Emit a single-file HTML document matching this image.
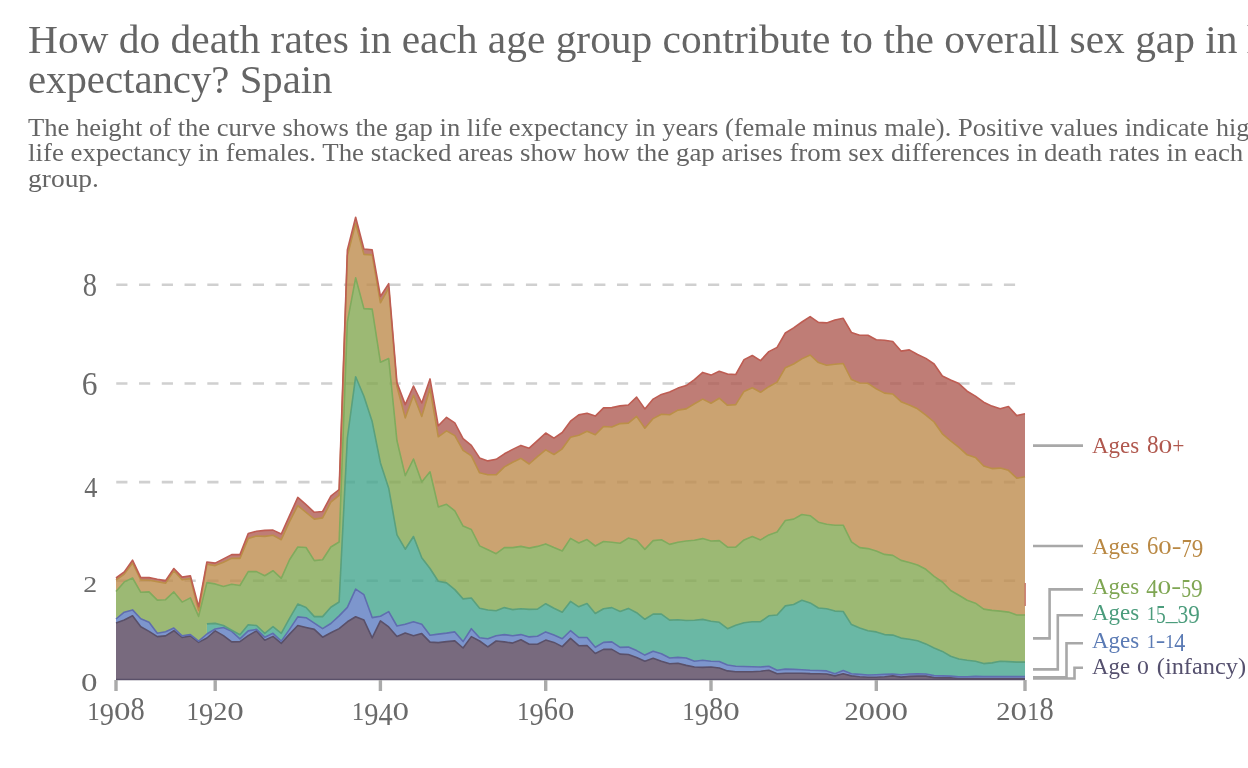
<!DOCTYPE html>
<html><head><meta charset="utf-8"><style>
html,body{margin:0;padding:0;background:#fff;width:1248px;height:768px;overflow:hidden}
svg{display:block;will-change:transform}
text{font-family:"Liberation Serif",serif}
.ttl{font-size:40px;fill:#656565}
.sub{font-size:26px;fill:#656565}
.ax{font-size:29px;fill:#6a6a6a}
.lg{font-size:24px}
</style></head><body>
<svg width="1248" height="768" viewBox="0 0 1248 768">
<text class="ttl" x="28" y="52.6" textLength="1209.5" lengthAdjust="spacingAndGlyphs">How do death rates in each age group contribute to the overall sex gap in</text>
<text class="ttl" x="1246.8" y="52.6">life</text>
<text class="ttl" x="28" y="93" textLength="304.5" lengthAdjust="spacingAndGlyphs">expectancy? Spain</text>
<text class="sub" x="28" y="136" textLength="1180.7" lengthAdjust="spacingAndGlyphs">The height of the curve shows the gap in life expectancy in years (female minus male). Positive values indicate</text>
<text class="sub" x="1216" y="136">higher</text>
<text class="sub" x="28" y="161.4" textLength="1215.3" lengthAdjust="spacingAndGlyphs">life expectancy in females. The stacked areas show how the gap arises from sex differences in death rates in each</text>
<text class="sub" x="28" y="187" textLength="71" lengthAdjust="spacingAndGlyphs">group.</text>
<line x1="116.25" y1="580.8" x2="1025" y2="580.8" stroke="#d0d0d0" stroke-width="2.6" stroke-dasharray="11.2 11.56"/>
<line x1="116.25" y1="482.1" x2="1025" y2="482.1" stroke="#d0d0d0" stroke-width="2.6" stroke-dasharray="11.2 11.56"/>
<line x1="116.25" y1="383.5" x2="1025" y2="383.5" stroke="#d0d0d0" stroke-width="2.6" stroke-dasharray="11.2 11.56"/>
<line x1="116.25" y1="284.8" x2="1025" y2="284.8" stroke="#d0d0d0" stroke-width="2.6" stroke-dasharray="11.2 11.56"/>

<path d="M116.00,622.90 L124.26,620.00 L132.53,615.80 L140.79,626.80 L149.05,631.40 L157.32,636.60 L165.58,635.90 L173.85,630.70 L182.11,637.50 L190.37,635.90 L198.64,642.40 L206.90,638.00 L215.16,630.90 L223.43,635.60 L231.69,641.90 L239.95,641.60 L248.22,635.60 L256.48,630.90 L264.75,640.30 L273.01,636.40 L281.27,643.40 L289.54,634.10 L297.80,625.50 L306.06,627.50 L314.33,629.40 L322.59,637.20 L330.85,632.80 L339.12,628.60 L347.38,621.80 L355.65,616.70 L363.91,620.10 L372.17,637.90 L380.44,620.90 L388.70,626.90 L396.96,636.50 L405.23,633.10 L413.49,635.80 L421.75,633.60 L430.02,642.10 L438.28,642.60 L446.55,641.60 L454.81,640.90 L463.07,648.00 L471.34,636.60 L479.60,641.00 L487.86,646.90 L496.13,641.00 L504.39,641.90 L512.65,643.10 L520.92,639.80 L529.18,644.30 L537.45,644.30 L545.71,640.10 L553.97,642.40 L562.24,646.60 L570.50,638.40 L578.76,645.70 L587.03,645.50 L595.29,653.50 L603.55,649.40 L611.82,649.40 L620.08,654.10 L628.35,654.50 L636.61,657.40 L644.87,661.20 L653.14,658.30 L661.40,661.20 L669.66,663.80 L677.93,663.30 L686.19,665.40 L694.45,667.00 L702.72,667.40 L710.98,667.00 L719.25,668.00 L727.51,670.90 L735.77,671.70 L744.04,671.70 L752.30,671.70 L760.56,671.20 L768.83,670.30 L777.09,673.80 L785.35,673.20 L793.62,673.20 L801.88,673.20 L810.15,673.60 L818.41,673.80 L826.67,674.00 L834.94,675.90 L843.20,673.80 L851.46,675.90 L859.73,676.70 L867.99,677.30 L876.25,677.30 L884.52,676.70 L892.78,675.90 L901.05,677.10 L909.31,676.40 L917.57,676.10 L925.84,676.10 L934.10,677.60 L942.36,677.90 L950.63,677.90 L958.89,678.50 L967.15,678.50 L975.42,678.50 L983.68,678.50 L991.95,678.50 L1000.21,678.50 L1008.47,678.50 L1016.74,678.50 L1025.00,678.50 L1025.00,679.50 L1016.74,679.50 L1008.47,679.50 L1000.21,679.50 L991.95,679.50 L983.68,679.50 L975.42,679.50 L967.15,679.50 L958.89,679.50 L950.63,679.50 L942.36,679.50 L934.10,679.50 L925.84,679.50 L917.57,679.50 L909.31,679.50 L901.05,679.50 L892.78,679.50 L884.52,679.50 L876.25,679.50 L867.99,679.50 L859.73,679.50 L851.46,679.50 L843.20,679.50 L834.94,679.50 L826.67,679.50 L818.41,679.50 L810.15,679.50 L801.88,679.50 L793.62,679.50 L785.35,679.50 L777.09,679.50 L768.83,679.50 L760.56,679.50 L752.30,679.50 L744.04,679.50 L735.77,679.50 L727.51,679.50 L719.25,679.50 L710.98,679.50 L702.72,679.50 L694.45,679.50 L686.19,679.50 L677.93,679.50 L669.66,679.50 L661.40,679.50 L653.14,679.50 L644.87,679.50 L636.61,679.50 L628.35,679.50 L620.08,679.50 L611.82,679.50 L603.55,679.50 L595.29,679.50 L587.03,679.50 L578.76,679.50 L570.50,679.50 L562.24,679.50 L553.97,679.50 L545.71,679.50 L537.45,679.50 L529.18,679.50 L520.92,679.50 L512.65,679.50 L504.39,679.50 L496.13,679.50 L487.86,679.50 L479.60,679.50 L471.34,679.50 L463.07,679.50 L454.81,679.50 L446.55,679.50 L438.28,679.50 L430.02,679.50 L421.75,679.50 L413.49,679.50 L405.23,679.50 L396.96,679.50 L388.70,679.50 L380.44,679.50 L372.17,679.50 L363.91,679.50 L355.65,679.50 L347.38,679.50 L339.12,679.50 L330.85,679.50 L322.59,679.50 L314.33,679.50 L306.06,679.50 L297.80,679.50 L289.54,679.50 L281.27,679.50 L273.01,679.50 L264.75,679.50 L256.48,679.50 L248.22,679.50 L239.95,679.50 L231.69,679.50 L223.43,679.50 L215.16,679.50 L206.90,679.50 L198.64,679.50 L190.37,679.50 L182.11,679.50 L173.85,679.50 L165.58,679.50 L157.32,679.50 L149.05,679.50 L140.79,679.50 L132.53,679.50 L124.26,679.50 L116.00,679.50 Z" fill="#56455e" fill-opacity="0.8"/>
<path d="M116.00,619.00 L124.26,612.20 L132.53,609.90 L140.79,618.75 L149.05,622.30 L157.32,633.30 L165.58,631.80 L173.85,628.10 L182.11,635.90 L190.37,634.60 L198.64,641.10 L206.90,634.00 L215.16,629.00 L223.43,627.50 L231.69,631.30 L239.95,638.80 L248.22,630.90 L256.48,629.40 L264.75,637.20 L273.01,633.30 L281.27,641.10 L289.54,629.40 L297.80,616.90 L306.06,617.70 L314.33,623.10 L322.59,628.60 L330.85,623.50 L339.12,615.90 L347.38,607.40 L355.65,589.10 L363.91,594.70 L372.17,617.60 L380.44,616.20 L388.70,611.60 L396.96,626.00 L405.23,624.30 L413.49,621.80 L421.75,624.30 L430.02,635.30 L438.28,634.10 L446.55,633.10 L454.81,631.90 L463.07,641.60 L471.34,628.70 L479.60,637.70 L487.86,638.70 L496.13,635.70 L504.39,634.60 L512.65,635.70 L520.92,634.60 L529.18,636.90 L537.45,636.30 L545.71,631.90 L553.97,635.10 L562.24,638.70 L570.50,630.70 L578.76,637.50 L587.03,637.50 L595.29,647.30 L603.55,642.40 L611.82,641.90 L620.08,647.40 L628.35,647.10 L636.61,650.60 L644.87,655.10 L653.14,651.30 L661.40,653.70 L669.66,658.00 L677.93,657.40 L686.19,658.00 L694.45,661.20 L702.72,660.30 L710.98,661.20 L719.25,661.50 L727.51,665.00 L735.77,666.20 L744.04,666.50 L752.30,666.80 L760.56,667.00 L768.83,666.20 L777.09,670.30 L785.35,669.10 L793.62,669.40 L801.88,669.70 L810.15,670.30 L818.41,670.50 L826.67,670.90 L834.94,673.80 L843.20,670.50 L851.46,673.80 L859.73,674.40 L867.99,675.00 L876.25,674.70 L884.52,674.40 L892.78,674.00 L901.05,674.70 L909.31,674.00 L917.57,673.80 L925.84,674.00 L934.10,675.60 L942.36,675.90 L950.63,676.10 L958.89,676.70 L967.15,676.70 L975.42,676.40 L983.68,676.50 L991.95,676.50 L1000.21,676.50 L1008.47,676.50 L1016.74,676.50 L1025.00,676.50 L1025.00,678.50 L1016.74,678.50 L1008.47,678.50 L1000.21,678.50 L991.95,678.50 L983.68,678.50 L975.42,678.50 L967.15,678.50 L958.89,678.50 L950.63,677.90 L942.36,677.90 L934.10,677.60 L925.84,676.10 L917.57,676.10 L909.31,676.40 L901.05,677.10 L892.78,675.90 L884.52,676.70 L876.25,677.30 L867.99,677.30 L859.73,676.70 L851.46,675.90 L843.20,673.80 L834.94,675.90 L826.67,674.00 L818.41,673.80 L810.15,673.60 L801.88,673.20 L793.62,673.20 L785.35,673.20 L777.09,673.80 L768.83,670.30 L760.56,671.20 L752.30,671.70 L744.04,671.70 L735.77,671.70 L727.51,670.90 L719.25,668.00 L710.98,667.00 L702.72,667.40 L694.45,667.00 L686.19,665.40 L677.93,663.30 L669.66,663.80 L661.40,661.20 L653.14,658.30 L644.87,661.20 L636.61,657.40 L628.35,654.50 L620.08,654.10 L611.82,649.40 L603.55,649.40 L595.29,653.50 L587.03,645.50 L578.76,645.70 L570.50,638.40 L562.24,646.60 L553.97,642.40 L545.71,640.10 L537.45,644.30 L529.18,644.30 L520.92,639.80 L512.65,643.10 L504.39,641.90 L496.13,641.00 L487.86,646.90 L479.60,641.00 L471.34,636.60 L463.07,648.00 L454.81,640.90 L446.55,641.60 L438.28,642.60 L430.02,642.10 L421.75,633.60 L413.49,635.80 L405.23,633.10 L396.96,636.50 L388.70,626.90 L380.44,620.90 L372.17,637.90 L363.91,620.10 L355.65,616.70 L347.38,621.80 L339.12,628.60 L330.85,632.80 L322.59,637.20 L314.33,629.40 L306.06,627.50 L297.80,625.50 L289.54,634.10 L281.27,643.40 L273.01,636.40 L264.75,640.30 L256.48,630.90 L248.22,635.60 L239.95,641.60 L231.69,641.90 L223.43,635.60 L215.16,630.90 L206.90,638.00 L198.64,642.40 L190.37,635.90 L182.11,637.50 L173.85,630.70 L165.58,635.90 L157.32,636.60 L149.05,631.40 L140.79,626.80 L132.53,615.80 L124.26,620.00 L116.00,622.90 Z" fill="#5d7cc1" fill-opacity="0.8"/>
<path d="M206.90,623.90 L215.16,623.40 L223.43,625.50 L231.69,630.20 L239.95,634.80 L248.22,624.70 L256.48,625.50 L264.75,633.30 L273.01,626.60 L281.27,633.30 L289.54,618.40 L297.80,604.10 L306.06,607.50 L314.33,616.60 L322.59,616.60 L330.85,607.20 L339.12,602.00 L347.38,438.00 L355.65,376.70 L363.91,396.20 L372.17,421.60 L380.44,462.90 L388.70,488.20 L396.96,534.80 L405.23,549.20 L413.49,536.50 L421.75,557.70 L430.02,568.50 L438.28,581.20 L446.55,582.90 L454.81,589.60 L463.07,598.90 L471.34,598.00 L479.60,608.20 L487.86,610.00 L496.13,610.80 L504.39,607.60 L512.65,609.60 L520.92,608.80 L529.18,609.40 L537.45,609.10 L545.71,603.70 L553.97,608.20 L562.24,612.30 L570.50,601.40 L578.76,606.80 L587.03,603.50 L595.29,613.50 L603.55,608.80 L611.82,607.60 L620.08,611.50 L628.35,608.40 L636.61,612.70 L644.87,619.30 L653.14,614.10 L661.40,614.10 L669.66,620.10 L677.93,619.70 L686.19,620.50 L694.45,620.20 L702.72,619.40 L710.98,621.30 L719.25,622.30 L727.51,628.70 L735.77,625.20 L744.04,622.80 L752.30,621.70 L760.56,621.70 L768.83,615.80 L777.09,615.00 L785.35,605.90 L793.62,604.50 L801.88,600.20 L810.15,602.90 L818.41,608.00 L826.67,608.80 L834.94,611.10 L843.20,611.50 L851.46,624.60 L859.73,628.10 L867.99,630.70 L876.25,631.90 L884.52,634.60 L892.78,635.10 L901.05,638.10 L909.31,639.20 L917.57,640.80 L925.84,643.90 L934.10,648.00 L942.36,651.40 L950.63,656.20 L958.89,659.00 L967.15,660.20 L975.42,661.20 L983.68,663.60 L991.95,662.90 L1000.21,661.20 L1008.47,661.60 L1016.74,662.10 L1025.00,662.10 L1025.00,676.50 L1016.74,676.50 L1008.47,676.50 L1000.21,676.50 L991.95,676.50 L983.68,676.50 L975.42,676.40 L967.15,676.70 L958.89,676.70 L950.63,676.10 L942.36,675.90 L934.10,675.60 L925.84,674.00 L917.57,673.80 L909.31,674.00 L901.05,674.70 L892.78,674.00 L884.52,674.40 L876.25,674.70 L867.99,675.00 L859.73,674.40 L851.46,673.80 L843.20,670.50 L834.94,673.80 L826.67,670.90 L818.41,670.50 L810.15,670.30 L801.88,669.70 L793.62,669.40 L785.35,669.10 L777.09,670.30 L768.83,666.20 L760.56,667.00 L752.30,666.80 L744.04,666.50 L735.77,666.20 L727.51,665.00 L719.25,661.50 L710.98,661.20 L702.72,660.30 L694.45,661.20 L686.19,658.00 L677.93,657.40 L669.66,658.00 L661.40,653.70 L653.14,651.30 L644.87,655.10 L636.61,650.60 L628.35,647.10 L620.08,647.40 L611.82,641.90 L603.55,642.40 L595.29,647.30 L587.03,637.50 L578.76,637.50 L570.50,630.70 L562.24,638.70 L553.97,635.10 L545.71,631.90 L537.45,636.30 L529.18,636.90 L520.92,634.60 L512.65,635.70 L504.39,634.60 L496.13,635.70 L487.86,638.70 L479.60,637.70 L471.34,628.70 L463.07,641.60 L454.81,631.90 L446.55,633.10 L438.28,634.10 L430.02,635.30 L421.75,624.30 L413.49,621.80 L405.23,624.30 L396.96,626.00 L388.70,611.60 L380.44,616.20 L372.17,617.60 L363.91,594.70 L355.65,589.10 L347.38,607.40 L339.12,615.90 L330.85,623.50 L322.59,628.60 L314.33,623.10 L306.06,617.70 L297.80,616.90 L289.54,629.40 L281.27,641.10 L273.01,633.30 L264.75,637.20 L256.48,629.40 L248.22,630.90 L239.95,638.80 L231.69,631.30 L223.43,627.50 L215.16,629.00 L206.90,634.00 Z" fill="#45a68e" fill-opacity="0.8"/>
<path d="M116.00,591.40 L124.26,581.90 L132.53,578.00 L140.79,592.30 L149.05,591.90 L157.32,600.10 L165.58,599.70 L173.85,591.90 L182.11,602.10 L190.37,597.90 L198.64,616.40 L206.90,582.60 L215.16,583.90 L223.43,586.50 L231.69,584.30 L239.95,585.50 L248.22,571.60 L256.48,571.60 L264.75,575.80 L273.01,570.70 L281.27,578.30 L289.54,559.70 L297.80,547.00 L306.06,547.50 L314.33,560.60 L322.59,559.70 L330.85,547.00 L339.12,542.00 L347.38,321.80 L355.65,277.80 L363.91,308.60 L372.17,309.10 L380.44,362.30 L388.70,358.60 L396.96,440.80 L405.23,475.60 L413.49,459.00 L421.75,482.00 L430.02,471.80 L438.28,506.90 L446.55,504.30 L454.81,510.80 L463.07,526.10 L471.34,529.50 L479.60,545.90 L487.86,549.80 L496.13,553.70 L504.39,547.60 L512.65,547.60 L520.92,546.40 L529.18,548.10 L537.45,546.40 L545.71,543.90 L553.97,547.60 L562.24,551.00 L570.50,538.40 L578.76,543.00 L587.03,539.60 L595.29,546.00 L603.55,541.50 L611.82,542.30 L620.08,543.20 L628.35,538.10 L636.61,540.30 L644.87,549.40 L653.14,540.60 L661.40,539.80 L669.66,544.40 L677.93,542.30 L686.19,541.00 L694.45,540.30 L702.72,538.60 L710.98,541.00 L719.25,540.60 L727.51,547.20 L735.77,547.20 L744.04,539.90 L752.30,536.60 L760.56,539.90 L768.83,534.90 L777.09,532.00 L785.35,520.50 L793.62,519.10 L801.88,514.50 L810.15,515.70 L818.41,522.20 L826.67,524.20 L834.94,525.20 L843.20,525.20 L851.46,541.80 L859.73,547.60 L867.99,548.60 L876.25,551.00 L884.52,554.40 L892.78,555.40 L901.05,560.40 L909.31,562.50 L917.57,565.00 L925.84,569.30 L934.10,576.40 L942.36,582.00 L950.63,590.50 L958.89,595.20 L967.15,600.30 L975.42,603.20 L983.68,609.10 L991.95,610.40 L1000.21,611.10 L1008.47,612.10 L1016.74,615.00 L1025.00,615.00 L1025.00,662.10 L1016.74,662.10 L1008.47,661.60 L1000.21,661.20 L991.95,662.90 L983.68,663.60 L975.42,661.20 L967.15,660.20 L958.89,659.00 L950.63,656.20 L942.36,651.40 L934.10,648.00 L925.84,643.90 L917.57,640.80 L909.31,639.20 L901.05,638.10 L892.78,635.10 L884.52,634.60 L876.25,631.90 L867.99,630.70 L859.73,628.10 L851.46,624.60 L843.20,611.50 L834.94,611.10 L826.67,608.80 L818.41,608.00 L810.15,602.90 L801.88,600.20 L793.62,604.50 L785.35,605.90 L777.09,615.00 L768.83,615.80 L760.56,621.70 L752.30,621.70 L744.04,622.80 L735.77,625.20 L727.51,628.70 L719.25,622.30 L710.98,621.30 L702.72,619.40 L694.45,620.20 L686.19,620.50 L677.93,619.70 L669.66,620.10 L661.40,614.10 L653.14,614.10 L644.87,619.30 L636.61,612.70 L628.35,608.40 L620.08,611.50 L611.82,607.60 L603.55,608.80 L595.29,613.50 L587.03,603.50 L578.76,606.80 L570.50,601.40 L562.24,612.30 L553.97,608.20 L545.71,603.70 L537.45,609.10 L529.18,609.40 L520.92,608.80 L512.65,609.60 L504.39,607.60 L496.13,610.80 L487.86,610.00 L479.60,608.20 L471.34,598.00 L463.07,598.90 L454.81,589.60 L446.55,582.90 L438.28,581.20 L430.02,568.50 L421.75,557.70 L413.49,536.50 L405.23,549.20 L396.96,534.80 L388.70,488.20 L380.44,462.90 L372.17,421.60 L363.91,396.20 L355.65,376.70 L347.38,438.00 L339.12,602.00 L330.85,607.20 L322.59,616.60 L314.33,616.60 L306.06,607.50 L297.80,604.10 L289.54,618.40 L281.27,633.30 L273.01,626.60 L264.75,633.30 L256.48,625.50 L248.22,624.70 L239.95,634.80 L231.69,630.20 L223.43,625.50 L215.16,623.40 L206.90,623.90 L206.90,634.00 L198.64,641.10 L190.37,634.60 L182.11,635.90 L173.85,628.10 L165.58,631.80 L157.32,633.30 L149.05,622.30 L140.79,618.75 L132.53,609.90 L124.26,612.20 L116.00,619.00 Z" fill="#83a751" fill-opacity="0.8"/>
<path d="M116.00,580.20 L124.26,574.10 L132.53,563.00 L140.79,579.90 L149.05,580.20 L157.32,581.60 L165.58,583.20 L173.85,570.80 L182.11,579.70 L190.37,578.60 L198.64,610.50 L206.90,564.30 L215.16,565.60 L223.43,562.30 L231.69,558.40 L239.95,558.40 L248.22,538.60 L256.48,536.00 L264.75,536.40 L273.01,535.20 L281.27,539.70 L289.54,521.60 L297.80,505.60 L306.06,512.30 L314.33,519.10 L322.59,517.90 L330.85,502.20 L339.12,495.40 L347.38,255.80 L355.65,223.60 L363.91,254.40 L372.17,254.90 L380.44,302.80 L388.70,288.00 L396.96,386.50 L405.23,417.90 L413.49,395.30 L421.75,416.50 L430.02,388.60 L438.28,436.80 L446.55,430.90 L454.81,435.60 L463.07,450.40 L471.34,455.90 L479.60,472.80 L487.86,474.80 L496.13,474.80 L504.39,466.90 L512.65,462.30 L520.92,458.40 L529.18,464.00 L537.45,456.70 L545.71,449.90 L553.97,454.50 L562.24,448.80 L570.50,437.20 L578.76,435.20 L587.03,431.30 L595.29,434.70 L603.55,426.50 L611.82,427.00 L620.08,423.60 L628.35,423.10 L636.61,416.40 L644.87,428.20 L653.14,418.60 L661.40,414.30 L669.66,414.70 L677.93,410.10 L686.19,408.90 L694.45,403.80 L702.72,399.10 L710.98,403.30 L719.25,398.20 L727.51,405.30 L735.77,404.60 L744.04,391.40 L752.30,387.70 L760.56,392.30 L768.83,386.70 L777.09,382.10 L785.35,367.70 L793.62,364.00 L801.88,358.90 L810.15,355.00 L818.41,362.60 L826.67,365.20 L834.94,364.30 L843.20,363.50 L851.46,379.60 L859.73,383.00 L867.99,383.30 L876.25,388.90 L884.52,393.10 L892.78,394.00 L901.05,401.70 L909.31,405.10 L917.57,408.80 L925.84,415.20 L934.10,422.00 L942.36,433.80 L950.63,440.90 L958.89,447.40 L967.15,454.80 L975.42,457.40 L983.68,466.00 L991.95,468.60 L1000.21,468.10 L1008.47,470.30 L1016.74,478.20 L1025.00,476.70 L1025.00,615.00 L1016.74,615.00 L1008.47,612.10 L1000.21,611.10 L991.95,610.40 L983.68,609.10 L975.42,603.20 L967.15,600.30 L958.89,595.20 L950.63,590.50 L942.36,582.00 L934.10,576.40 L925.84,569.30 L917.57,565.00 L909.31,562.50 L901.05,560.40 L892.78,555.40 L884.52,554.40 L876.25,551.00 L867.99,548.60 L859.73,547.60 L851.46,541.80 L843.20,525.20 L834.94,525.20 L826.67,524.20 L818.41,522.20 L810.15,515.70 L801.88,514.50 L793.62,519.10 L785.35,520.50 L777.09,532.00 L768.83,534.90 L760.56,539.90 L752.30,536.60 L744.04,539.90 L735.77,547.20 L727.51,547.20 L719.25,540.60 L710.98,541.00 L702.72,538.60 L694.45,540.30 L686.19,541.00 L677.93,542.30 L669.66,544.40 L661.40,539.80 L653.14,540.60 L644.87,549.40 L636.61,540.30 L628.35,538.10 L620.08,543.20 L611.82,542.30 L603.55,541.50 L595.29,546.00 L587.03,539.60 L578.76,543.00 L570.50,538.40 L562.24,551.00 L553.97,547.60 L545.71,543.90 L537.45,546.40 L529.18,548.10 L520.92,546.40 L512.65,547.60 L504.39,547.60 L496.13,553.70 L487.86,549.80 L479.60,545.90 L471.34,529.50 L463.07,526.10 L454.81,510.80 L446.55,504.30 L438.28,506.90 L430.02,471.80 L421.75,482.00 L413.49,459.00 L405.23,475.60 L396.96,440.80 L388.70,358.60 L380.44,362.30 L372.17,309.10 L363.91,308.60 L355.65,277.80 L347.38,321.80 L339.12,542.00 L330.85,547.00 L322.59,559.70 L314.33,560.60 L306.06,547.50 L297.80,547.00 L289.54,559.70 L281.27,578.30 L273.01,570.70 L264.75,575.80 L256.48,571.60 L248.22,571.60 L239.95,585.50 L231.69,584.30 L223.43,586.50 L215.16,583.90 L206.90,582.60 L198.64,616.40 L190.37,597.90 L182.11,602.10 L173.85,591.90 L165.58,599.70 L157.32,600.10 L149.05,591.90 L140.79,592.30 L132.53,578.00 L124.26,581.90 L116.00,591.40 Z" fill="#be8c4e" fill-opacity="0.8"/>
<path d="M116.00,578.00 L124.26,571.90 L132.53,560.20 L140.79,577.60 L149.05,577.60 L157.32,579.30 L165.58,580.60 L173.85,568.50 L182.11,577.10 L190.37,575.80 L198.64,606.60 L206.90,562.00 L215.16,563.10 L223.43,558.90 L231.69,554.60 L239.95,554.60 L248.22,533.50 L256.48,531.30 L264.75,530.40 L273.01,530.10 L281.27,534.00 L289.54,515.70 L297.80,497.40 L306.06,504.70 L314.33,512.30 L322.59,511.50 L330.85,496.20 L339.12,489.50 L347.38,249.90 L355.65,217.20 L363.91,249.00 L372.17,249.90 L380.44,296.40 L388.70,283.70 L396.96,382.60 L405.23,404.60 L413.49,386.00 L421.75,403.00 L430.02,378.90 L438.28,425.80 L446.55,417.30 L454.81,422.90 L463.07,438.60 L471.34,445.40 L479.60,457.90 L487.86,460.90 L496.13,459.30 L504.39,453.80 L512.65,449.40 L520.92,445.40 L529.18,448.20 L537.45,440.60 L545.71,433.00 L553.97,438.10 L562.24,432.50 L570.50,421.20 L578.76,414.90 L587.03,413.20 L595.29,416.10 L603.55,407.90 L611.82,407.60 L620.08,405.90 L628.35,405.00 L636.61,397.10 L644.87,408.90 L653.14,399.10 L661.40,394.40 L669.66,392.00 L677.93,388.10 L686.19,385.60 L694.45,379.60 L702.72,372.40 L710.98,375.10 L719.25,371.20 L727.51,374.10 L735.77,374.50 L744.04,359.60 L752.30,355.50 L760.56,360.60 L768.83,351.60 L777.09,347.40 L785.35,333.00 L793.62,327.90 L801.88,322.00 L810.15,316.60 L818.41,322.40 L826.67,322.90 L834.94,320.00 L843.20,318.30 L851.46,332.50 L859.73,335.20 L867.99,335.20 L876.25,339.80 L884.52,340.30 L892.78,341.50 L901.05,351.10 L909.31,349.90 L917.57,354.50 L925.84,358.40 L934.10,364.00 L942.36,376.00 L950.63,380.00 L958.89,383.60 L967.15,391.20 L975.42,396.10 L983.68,402.20 L991.95,406.10 L1000.21,408.70 L1008.47,406.50 L1016.74,415.60 L1025.00,413.70 L1025.00,476.70 L1016.74,478.20 L1008.47,470.30 L1000.21,468.10 L991.95,468.60 L983.68,466.00 L975.42,457.40 L967.15,454.80 L958.89,447.40 L950.63,440.90 L942.36,433.80 L934.10,422.00 L925.84,415.20 L917.57,408.80 L909.31,405.10 L901.05,401.70 L892.78,394.00 L884.52,393.10 L876.25,388.90 L867.99,383.30 L859.73,383.00 L851.46,379.60 L843.20,363.50 L834.94,364.30 L826.67,365.20 L818.41,362.60 L810.15,355.00 L801.88,358.90 L793.62,364.00 L785.35,367.70 L777.09,382.10 L768.83,386.70 L760.56,392.30 L752.30,387.70 L744.04,391.40 L735.77,404.60 L727.51,405.30 L719.25,398.20 L710.98,403.30 L702.72,399.10 L694.45,403.80 L686.19,408.90 L677.93,410.10 L669.66,414.70 L661.40,414.30 L653.14,418.60 L644.87,428.20 L636.61,416.40 L628.35,423.10 L620.08,423.60 L611.82,427.00 L603.55,426.50 L595.29,434.70 L587.03,431.30 L578.76,435.20 L570.50,437.20 L562.24,448.80 L553.97,454.50 L545.71,449.90 L537.45,456.70 L529.18,464.00 L520.92,458.40 L512.65,462.30 L504.39,466.90 L496.13,474.80 L487.86,474.80 L479.60,472.80 L471.34,455.90 L463.07,450.40 L454.81,435.60 L446.55,430.90 L438.28,436.80 L430.02,388.60 L421.75,416.50 L413.49,395.30 L405.23,417.90 L396.96,386.50 L388.70,288.00 L380.44,302.80 L372.17,254.90 L363.91,254.40 L355.65,223.60 L347.38,255.80 L339.12,495.40 L330.85,502.20 L322.59,517.90 L314.33,519.10 L306.06,512.30 L297.80,505.60 L289.54,521.60 L281.27,539.70 L273.01,535.20 L264.75,536.40 L256.48,536.00 L248.22,538.60 L239.95,558.40 L231.69,558.40 L223.43,562.30 L215.16,565.60 L206.90,564.30 L198.64,610.50 L190.37,578.60 L182.11,579.70 L173.85,570.80 L165.58,583.20 L157.32,581.60 L149.05,580.20 L140.79,579.90 L132.53,563.00 L124.26,574.10 L116.00,580.20 Z" fill="#af5c54" fill-opacity="0.8"/>

<path d="M116,679.5 H1025" stroke="#5a5069" stroke-opacity="1" stroke-width="1.6"/>
<path d="M116.00,622.90 L124.26,620.00 L132.53,615.80 L140.79,626.80 L149.05,631.40 L157.32,636.60 L165.58,635.90 L173.85,630.70 L182.11,637.50 L190.37,635.90 L198.64,642.40 L206.90,638.00 L215.16,630.90 L223.43,635.60 L231.69,641.90 L239.95,641.60 L248.22,635.60 L256.48,630.90 L264.75,640.30 L273.01,636.40 L281.27,643.40 L289.54,634.10 L297.80,625.50 L306.06,627.50 L314.33,629.40 L322.59,637.20 L330.85,632.80 L339.12,628.60 L347.38,621.80 L355.65,616.70 L363.91,620.10 L372.17,637.90 L380.44,620.90 L388.70,626.90 L396.96,636.50 L405.23,633.10 L413.49,635.80 L421.75,633.60 L430.02,642.10 L438.28,642.60 L446.55,641.60 L454.81,640.90 L463.07,648.00 L471.34,636.60 L479.60,641.00 L487.86,646.90 L496.13,641.00 L504.39,641.90 L512.65,643.10 L520.92,639.80 L529.18,644.30 L537.45,644.30 L545.71,640.10 L553.97,642.40 L562.24,646.60 L570.50,638.40 L578.76,645.70 L587.03,645.50 L595.29,653.50 L603.55,649.40 L611.82,649.40 L620.08,654.10 L628.35,654.50 L636.61,657.40 L644.87,661.20 L653.14,658.30 L661.40,661.20 L669.66,663.80 L677.93,663.30 L686.19,665.40 L694.45,667.00 L702.72,667.40 L710.98,667.00 L719.25,668.00 L727.51,670.90 L735.77,671.70 L744.04,671.70 L752.30,671.70 L760.56,671.20 L768.83,670.30 L777.09,673.80 L785.35,673.20 L793.62,673.20 L801.88,673.20 L810.15,673.60 L818.41,673.80 L826.67,674.00 L834.94,675.90 L843.20,673.80 L851.46,675.90 L859.73,676.70 L867.99,677.30 L876.25,677.30 L884.52,676.70 L892.78,675.90 L901.05,677.10 L909.31,676.40 L917.57,676.10 L925.84,676.10 L934.10,677.60 L942.36,677.90 L950.63,677.90 L958.89,678.50 L967.15,678.50 L975.42,678.50 L983.68,678.50 L991.95,678.50 L1000.21,678.50 L1008.47,678.50 L1016.74,678.50 L1025.00,678.50" fill="none" stroke="#5a5069" stroke-opacity="1" stroke-width="1.6" stroke-linejoin="round"/>
<path d="M116.00,619.00 L124.26,612.20 L132.53,609.90 L140.79,618.75 L149.05,622.30 L157.32,633.30 L165.58,631.80 L173.85,628.10 L182.11,635.90 L190.37,634.60 L198.64,641.10 L206.90,634.00 L215.16,629.00 L223.43,627.50 L231.69,631.30 L239.95,638.80 L248.22,630.90 L256.48,629.40 L264.75,637.20 L273.01,633.30 L281.27,641.10 L289.54,629.40 L297.80,616.90 L306.06,617.70 L314.33,623.10 L322.59,628.60 L330.85,623.50 L339.12,615.90 L347.38,607.40 L355.65,589.10 L363.91,594.70 L372.17,617.60 L380.44,616.20 L388.70,611.60 L396.96,626.00 L405.23,624.30 L413.49,621.80 L421.75,624.30 L430.02,635.30 L438.28,634.10 L446.55,633.10 L454.81,631.90 L463.07,641.60 L471.34,628.70 L479.60,637.70 L487.86,638.70 L496.13,635.70 L504.39,634.60 L512.65,635.70 L520.92,634.60 L529.18,636.90 L537.45,636.30 L545.71,631.90 L553.97,635.10 L562.24,638.70 L570.50,630.70 L578.76,637.50 L587.03,637.50 L595.29,647.30 L603.55,642.40 L611.82,641.90 L620.08,647.40 L628.35,647.10 L636.61,650.60 L644.87,655.10 L653.14,651.30 L661.40,653.70 L669.66,658.00 L677.93,657.40 L686.19,658.00 L694.45,661.20 L702.72,660.30 L710.98,661.20 L719.25,661.50 L727.51,665.00 L735.77,666.20 L744.04,666.50 L752.30,666.80 L760.56,667.00 L768.83,666.20 L777.09,670.30 L785.35,669.10 L793.62,669.40 L801.88,669.70 L810.15,670.30 L818.41,670.50 L826.67,670.90 L834.94,673.80 L843.20,670.50 L851.46,673.80 L859.73,674.40 L867.99,675.00 L876.25,674.70 L884.52,674.40 L892.78,674.00 L901.05,674.70 L909.31,674.00 L917.57,673.80 L925.84,674.00 L934.10,675.60 L942.36,675.90 L950.63,676.10 L958.89,676.70 L967.15,676.70 L975.42,676.40 L983.68,676.50 L991.95,676.50 L1000.21,676.50 L1008.47,676.50 L1016.74,676.50 L1025.00,676.50" fill="none" stroke="#5f6eaf" stroke-opacity="1" stroke-width="1.6" stroke-linejoin="round"/>
<path d="M206.90,623.90 L215.16,623.40 L223.43,625.50 L231.69,630.20 L239.95,634.80 L248.22,624.70 L256.48,625.50 L264.75,633.30 L273.01,626.60 L281.27,633.30 L289.54,618.40 L297.80,604.10 L306.06,607.50 L314.33,616.60 L322.59,616.60 L330.85,607.20 L339.12,602.00 L347.38,438.00 L355.65,376.70 L363.91,396.20 L372.17,421.60 L380.44,462.90 L388.70,488.20 L396.96,534.80 L405.23,549.20 L413.49,536.50 L421.75,557.70 L430.02,568.50 L438.28,581.20 L446.55,582.90 L454.81,589.60 L463.07,598.90 L471.34,598.00 L479.60,608.20 L487.86,610.00 L496.13,610.80 L504.39,607.60 L512.65,609.60 L520.92,608.80 L529.18,609.40 L537.45,609.10 L545.71,603.70 L553.97,608.20 L562.24,612.30 L570.50,601.40 L578.76,606.80 L587.03,603.50 L595.29,613.50 L603.55,608.80 L611.82,607.60 L620.08,611.50 L628.35,608.40 L636.61,612.70 L644.87,619.30 L653.14,614.10 L661.40,614.10 L669.66,620.10 L677.93,619.70 L686.19,620.50 L694.45,620.20 L702.72,619.40 L710.98,621.30 L719.25,622.30 L727.51,628.70 L735.77,625.20 L744.04,622.80 L752.30,621.70 L760.56,621.70 L768.83,615.80 L777.09,615.00 L785.35,605.90 L793.62,604.50 L801.88,600.20 L810.15,602.90 L818.41,608.00 L826.67,608.80 L834.94,611.10 L843.20,611.50 L851.46,624.60 L859.73,628.10 L867.99,630.70 L876.25,631.90 L884.52,634.60 L892.78,635.10 L901.05,638.10 L909.31,639.20 L917.57,640.80 L925.84,643.90 L934.10,648.00 L942.36,651.40 L950.63,656.20 L958.89,659.00 L967.15,660.20 L975.42,661.20 L983.68,663.60 L991.95,662.90 L1000.21,661.20 L1008.47,661.60 L1016.74,662.10 L1025.00,662.10" fill="none" stroke="#5aa07d" stroke-opacity="1" stroke-width="1.6" stroke-linejoin="round"/>
<path d="M116.00,591.40 L124.26,581.90 L132.53,578.00 L140.79,592.30 L149.05,591.90 L157.32,600.10 L165.58,599.70 L173.85,591.90 L182.11,602.10 L190.37,597.90 L198.64,616.40 L206.90,582.60 L215.16,583.90 L223.43,586.50 L231.69,584.30 L239.95,585.50 L248.22,571.60 L256.48,571.60 L264.75,575.80 L273.01,570.70 L281.27,578.30 L289.54,559.70 L297.80,547.00 L306.06,547.50 L314.33,560.60 L322.59,559.70 L330.85,547.00 L339.12,542.00 L347.38,321.80 L355.65,277.80 L363.91,308.60 L372.17,309.10 L380.44,362.30 L388.70,358.60 L396.96,440.80 L405.23,475.60 L413.49,459.00 L421.75,482.00 L430.02,471.80 L438.28,506.90 L446.55,504.30 L454.81,510.80 L463.07,526.10 L471.34,529.50 L479.60,545.90 L487.86,549.80 L496.13,553.70 L504.39,547.60 L512.65,547.60 L520.92,546.40 L529.18,548.10 L537.45,546.40 L545.71,543.90 L553.97,547.60 L562.24,551.00 L570.50,538.40 L578.76,543.00 L587.03,539.60 L595.29,546.00 L603.55,541.50 L611.82,542.30 L620.08,543.20 L628.35,538.10 L636.61,540.30 L644.87,549.40 L653.14,540.60 L661.40,539.80 L669.66,544.40 L677.93,542.30 L686.19,541.00 L694.45,540.30 L702.72,538.60 L710.98,541.00 L719.25,540.60 L727.51,547.20 L735.77,547.20 L744.04,539.90 L752.30,536.60 L760.56,539.90 L768.83,534.90 L777.09,532.00 L785.35,520.50 L793.62,519.10 L801.88,514.50 L810.15,515.70 L818.41,522.20 L826.67,524.20 L834.94,525.20 L843.20,525.20 L851.46,541.80 L859.73,547.60 L867.99,548.60 L876.25,551.00 L884.52,554.40 L892.78,555.40 L901.05,560.40 L909.31,562.50 L917.57,565.00 L925.84,569.30 L934.10,576.40 L942.36,582.00 L950.63,590.50 L958.89,595.20 L967.15,600.30 L975.42,603.20 L983.68,609.10 L991.95,610.40 L1000.21,611.10 L1008.47,612.10 L1016.74,615.00 L1025.00,615.00" fill="none" stroke="#80ab5d" stroke-opacity="1" stroke-width="1.6" stroke-linejoin="round"/>
<path d="M116.00,580.20 L124.26,574.10 L132.53,563.00 L140.79,579.90 L149.05,580.20 L157.32,581.60 L165.58,583.20 L173.85,570.80 L182.11,579.70 L190.37,578.60 L198.64,610.50 L206.90,564.30 L215.16,565.60 L223.43,562.30 L231.69,558.40 L239.95,558.40 L248.22,538.60 L256.48,536.00 L264.75,536.40 L273.01,535.20 L281.27,539.70 L289.54,521.60 L297.80,505.60 L306.06,512.30 L314.33,519.10 L322.59,517.90 L330.85,502.20 L339.12,495.40 L347.38,255.80 L355.65,223.60 L363.91,254.40 L372.17,254.90 L380.44,302.80 L388.70,288.00 L396.96,386.50 L405.23,417.90 L413.49,395.30 L421.75,416.50 L430.02,388.60 L438.28,436.80 L446.55,430.90 L454.81,435.60 L463.07,450.40 L471.34,455.90 L479.60,472.80 L487.86,474.80 L496.13,474.80 L504.39,466.90 L512.65,462.30 L520.92,458.40 L529.18,464.00 L537.45,456.70 L545.71,449.90 L553.97,454.50 L562.24,448.80 L570.50,437.20 L578.76,435.20 L587.03,431.30 L595.29,434.70 L603.55,426.50 L611.82,427.00 L620.08,423.60 L628.35,423.10 L636.61,416.40 L644.87,428.20 L653.14,418.60 L661.40,414.30 L669.66,414.70 L677.93,410.10 L686.19,408.90 L694.45,403.80 L702.72,399.10 L710.98,403.30 L719.25,398.20 L727.51,405.30 L735.77,404.60 L744.04,391.40 L752.30,387.70 L760.56,392.30 L768.83,386.70 L777.09,382.10 L785.35,367.70 L793.62,364.00 L801.88,358.90 L810.15,355.00 L818.41,362.60 L826.67,365.20 L834.94,364.30 L843.20,363.50 L851.46,379.60 L859.73,383.00 L867.99,383.30 L876.25,388.90 L884.52,393.10 L892.78,394.00 L901.05,401.70 L909.31,405.10 L917.57,408.80 L925.84,415.20 L934.10,422.00 L942.36,433.80 L950.63,440.90 L958.89,447.40 L967.15,454.80 L975.42,457.40 L983.68,466.00 L991.95,468.60 L1000.21,468.10 L1008.47,470.30 L1016.74,478.20 L1025.00,476.70" fill="none" stroke="#bb8f48" stroke-opacity="1" stroke-width="1.6" stroke-linejoin="round"/>
<path d="M116.00,578.00 L124.26,571.90 L132.53,560.20 L140.79,577.60 L149.05,577.60 L157.32,579.30 L165.58,580.60 L173.85,568.50 L182.11,577.10 L190.37,575.80 L198.64,606.60 L206.90,562.00 L215.16,563.10 L223.43,558.90 L231.69,554.60 L239.95,554.60 L248.22,533.50 L256.48,531.30 L264.75,530.40 L273.01,530.10 L281.27,534.00 L289.54,515.70 L297.80,497.40 L306.06,504.70 L314.33,512.30 L322.59,511.50 L330.85,496.20 L339.12,489.50 L347.38,249.90 L355.65,217.20 L363.91,249.00 L372.17,249.90 L380.44,296.40 L388.70,283.70 L396.96,382.60 L405.23,404.60 L413.49,386.00 L421.75,403.00 L430.02,378.90 L438.28,425.80 L446.55,417.30 L454.81,422.90 L463.07,438.60 L471.34,445.40 L479.60,457.90 L487.86,460.90 L496.13,459.30 L504.39,453.80 L512.65,449.40 L520.92,445.40 L529.18,448.20 L537.45,440.60 L545.71,433.00 L553.97,438.10 L562.24,432.50 L570.50,421.20 L578.76,414.90 L587.03,413.20 L595.29,416.10 L603.55,407.90 L611.82,407.60 L620.08,405.90 L628.35,405.00 L636.61,397.10 L644.87,408.90 L653.14,399.10 L661.40,394.40 L669.66,392.00 L677.93,388.10 L686.19,385.60 L694.45,379.60 L702.72,372.40 L710.98,375.10 L719.25,371.20 L727.51,374.10 L735.77,374.50 L744.04,359.60 L752.30,355.50 L760.56,360.60 L768.83,351.60 L777.09,347.40 L785.35,333.00 L793.62,327.90 L801.88,322.00 L810.15,316.60 L818.41,322.40 L826.67,322.90 L834.94,320.00 L843.20,318.30 L851.46,332.50 L859.73,335.20 L867.99,335.20 L876.25,339.80 L884.52,340.30 L892.78,341.50 L901.05,351.10 L909.31,349.90 L917.57,354.50 L925.84,358.40 L934.10,364.00 L942.36,376.00 L950.63,380.00 L958.89,383.60 L967.15,391.20 L975.42,396.10 L983.68,402.20 L991.95,406.10 L1000.21,408.70 L1008.47,406.50 L1016.74,415.60 L1025.00,413.70" fill="none" stroke="#be5d53" stroke-opacity="1" stroke-width="1.6" stroke-linejoin="round"/>

<line x1="116.0" y1="680" x2="116.0" y2="691" stroke="#aaaaaa" stroke-width="3.4"/>
<line x1="215.2" y1="680" x2="215.2" y2="691" stroke="#aaaaaa" stroke-width="3.4"/>
<line x1="380.4" y1="680" x2="380.4" y2="691" stroke="#aaaaaa" stroke-width="3.4"/>
<line x1="545.7" y1="680" x2="545.7" y2="691" stroke="#aaaaaa" stroke-width="3.4"/>
<line x1="711.0" y1="680" x2="711.0" y2="691" stroke="#aaaaaa" stroke-width="3.4"/>
<line x1="876.3" y1="680" x2="876.3" y2="691" stroke="#aaaaaa" stroke-width="3.4"/>
<line x1="1025.0" y1="680" x2="1025.0" y2="691" stroke="#aaaaaa" stroke-width="3.4"/>

<text x="81.00" y="690.7" class="ax" style="font-size:25px" textLength="16.5" lengthAdjust="spacingAndGlyphs">0</text>
<text x="83.30" y="592.2" class="ax" style="font-size:24px" textLength="13.9" lengthAdjust="spacingAndGlyphs">2</text>
<text x="84.30" y="496.7" class="ax" style="font-size:29.5px" textLength="13.2" lengthAdjust="spacingAndGlyphs">4</text>
<text x="81.75" y="395.0" class="ax" style="font-size:34px" textLength="15.75" lengthAdjust="spacingAndGlyphs">6</text>
<text x="82.75" y="295.6" class="ax" style="font-size:33.4px" textLength="14.25" lengthAdjust="spacingAndGlyphs">8</text>

<text x="87.30" y="720.3" class="ax" style="font-size:24.9px" textLength="12.5" lengthAdjust="spacingAndGlyphs">1</text><text x="99.80" y="724.6" class="ax" style="font-size:31.3px" textLength="14.2" lengthAdjust="spacingAndGlyphs">9</text><text x="114.00" y="720.3" class="ax" style="font-size:24.9px" textLength="16.5" lengthAdjust="spacingAndGlyphs">0</text><text x="130.50" y="720.3" class="ax" style="font-size:33.6px" textLength="14.2" lengthAdjust="spacingAndGlyphs">8</text>
<text x="186.46" y="720.3" class="ax" style="font-size:24.9px" textLength="12.5" lengthAdjust="spacingAndGlyphs">1</text><text x="198.96" y="724.6" class="ax" style="font-size:31.3px" textLength="14.2" lengthAdjust="spacingAndGlyphs">9</text><text x="213.16" y="720.3" class="ax" style="font-size:24.9px" textLength="14.2" lengthAdjust="spacingAndGlyphs">2</text><text x="227.36" y="720.3" class="ax" style="font-size:24.9px" textLength="16.5" lengthAdjust="spacingAndGlyphs">0</text>
<text x="351.74" y="720.3" class="ax" style="font-size:24.9px" textLength="12.5" lengthAdjust="spacingAndGlyphs">1</text><text x="364.24" y="724.6" class="ax" style="font-size:31.3px" textLength="14.2" lengthAdjust="spacingAndGlyphs">9</text><text x="378.44" y="724.6" class="ax" style="font-size:31.3px" textLength="14.2" lengthAdjust="spacingAndGlyphs">4</text><text x="392.64" y="720.3" class="ax" style="font-size:24.9px" textLength="16.5" lengthAdjust="spacingAndGlyphs">0</text>
<text x="517.01" y="720.3" class="ax" style="font-size:24.9px" textLength="12.5" lengthAdjust="spacingAndGlyphs">1</text><text x="529.51" y="724.6" class="ax" style="font-size:31.3px" textLength="14.2" lengthAdjust="spacingAndGlyphs">9</text><text x="543.71" y="720.3" class="ax" style="font-size:33.6px" textLength="14.2" lengthAdjust="spacingAndGlyphs">6</text><text x="557.91" y="720.3" class="ax" style="font-size:24.9px" textLength="16.5" lengthAdjust="spacingAndGlyphs">0</text>
<text x="682.28" y="720.3" class="ax" style="font-size:24.9px" textLength="12.5" lengthAdjust="spacingAndGlyphs">1</text><text x="694.78" y="724.6" class="ax" style="font-size:31.3px" textLength="14.2" lengthAdjust="spacingAndGlyphs">9</text><text x="708.98" y="720.3" class="ax" style="font-size:33.6px" textLength="14.2" lengthAdjust="spacingAndGlyphs">8</text><text x="723.18" y="720.3" class="ax" style="font-size:24.9px" textLength="16.5" lengthAdjust="spacingAndGlyphs">0</text>
<text x="844.40" y="720.3" class="ax" style="font-size:24.9px" textLength="14.2" lengthAdjust="spacingAndGlyphs">2</text><text x="858.60" y="720.3" class="ax" style="font-size:24.9px" textLength="16.5" lengthAdjust="spacingAndGlyphs">0</text><text x="875.10" y="720.3" class="ax" style="font-size:24.9px" textLength="16.5" lengthAdjust="spacingAndGlyphs">0</text><text x="891.60" y="720.3" class="ax" style="font-size:24.9px" textLength="16.5" lengthAdjust="spacingAndGlyphs">0</text>
<text x="996.30" y="720.3" class="ax" style="font-size:24.9px" textLength="14.2" lengthAdjust="spacingAndGlyphs">2</text><text x="1010.50" y="720.3" class="ax" style="font-size:24.9px" textLength="16.5" lengthAdjust="spacingAndGlyphs">0</text><text x="1027.00" y="720.3" class="ax" style="font-size:24.9px" textLength="12.5" lengthAdjust="spacingAndGlyphs">1</text><text x="1039.50" y="720.3" class="ax" style="font-size:33.6px" textLength="14.2" lengthAdjust="spacingAndGlyphs">8</text>

<g fill="none" stroke="#a8a8a8" stroke-width="2.6">
<path d="M1033,445.6 H1083"/>
<path d="M1033,546 H1083"/>
<path d="M1033,638.4 H1049.6 V589.4 H1083"/>
<path d="M1033,669.4 H1057.8 V615.3 H1083"/>
<path d="M1033,677.3 H1066.5 V643.2 H1083"/>
<path d="M1033,678.5 H1074.5 V667.7 H1083"/>
</g>
<text class="lg" x="1092" y="453.1" fill="#b0584e" textLength="47.1" lengthAdjust="spacingAndGlyphs">Ages</text><text class="lg" x="1147.00" y="453.1" fill="#b0584e" style="font-size:25.5px" textLength="11.62" lengthAdjust="spacingAndGlyphs">8</text><text class="lg" x="1158.62" y="453.1" fill="#b0584e" style="font-size:19.8px" textLength="13.72" lengthAdjust="spacingAndGlyphs">0</text><text class="lg" x="1172.33" y="453.1" fill="#b0584e" style="font-size:24px" textLength="12.17" lengthAdjust="spacingAndGlyphs">+</text>
<text class="lg" x="1092" y="553.7" fill="#b98843" textLength="47.1" lengthAdjust="spacingAndGlyphs">Ages</text><text class="lg" x="1147.00" y="553.7" fill="#b98843" style="font-size:25.5px" textLength="11.33" lengthAdjust="spacingAndGlyphs">6</text><text class="lg" x="1158.33" y="553.7" fill="#b98843" style="font-size:19.8px" textLength="13.38" lengthAdjust="spacingAndGlyphs">0</text><text class="lg" x="1171.70" y="553.7" fill="#b98843" style="font-size:24px" textLength="9.71" lengthAdjust="spacingAndGlyphs">-</text><text class="lg" x="1181.41" y="556.7" fill="#b98843" style="font-size:24.4px" textLength="10.25" lengthAdjust="spacingAndGlyphs">7</text><text class="lg" x="1191.66" y="556.7" fill="#b98843" style="font-size:24.4px" textLength="11.54" lengthAdjust="spacingAndGlyphs">9</text>
<text class="lg" x="1092" y="594.1" fill="#7fa653" textLength="47.1" lengthAdjust="spacingAndGlyphs">Ages</text><text class="lg" x="1146.20" y="597.1" fill="#7fa653" style="font-size:24.4px" textLength="11.43" lengthAdjust="spacingAndGlyphs">4</text><text class="lg" x="1157.63" y="594.1" fill="#7fa653" style="font-size:19.8px" textLength="13.63" lengthAdjust="spacingAndGlyphs">0</text><text class="lg" x="1171.26" y="594.1" fill="#7fa653" style="font-size:24px" textLength="9.89" lengthAdjust="spacingAndGlyphs">-</text><text class="lg" x="1181.15" y="597.1" fill="#7fa653" style="font-size:24.4px" textLength="9.89" lengthAdjust="spacingAndGlyphs">5</text><text class="lg" x="1191.04" y="597.1" fill="#7fa653" style="font-size:24.4px" textLength="11.76" lengthAdjust="spacingAndGlyphs">9</text>
<text class="lg" x="1092" y="619.5" fill="#4b9c7c" textLength="47.1" lengthAdjust="spacingAndGlyphs">Ages</text><text class="lg" x="1146.80" y="619.5" fill="#4b9c7c" style="font-size:19.8px" textLength="9.17" lengthAdjust="spacingAndGlyphs">1</text><text class="lg" x="1155.97" y="622.5" fill="#4b9c7c" style="font-size:24.4px" textLength="9.71" lengthAdjust="spacingAndGlyphs">5</text><text class="lg" x="1165.69" y="619.5" fill="#4b9c7c" style="font-size:24px" textLength="11.87" lengthAdjust="spacingAndGlyphs">_</text><text class="lg" x="1177.56" y="622.5" fill="#4b9c7c" style="font-size:24.4px" textLength="10.79" lengthAdjust="spacingAndGlyphs">3</text><text class="lg" x="1188.35" y="622.5" fill="#4b9c7c" style="font-size:24.4px" textLength="11.55" lengthAdjust="spacingAndGlyphs">9</text>
<text class="lg" x="1092" y="647.8" fill="#5a7ab4" textLength="47.1" lengthAdjust="spacingAndGlyphs">Ages</text><text class="lg" x="1146.70" y="647.8" fill="#5a7ab4" style="font-size:19.8px" textLength="9.04" lengthAdjust="spacingAndGlyphs">1</text><text class="lg" x="1155.74" y="647.8" fill="#5a7ab4" style="font-size:24px" textLength="9.57" lengthAdjust="spacingAndGlyphs">-</text><text class="lg" x="1165.31" y="647.8" fill="#5a7ab4" style="font-size:19.8px" textLength="9.04" lengthAdjust="spacingAndGlyphs">1</text><text class="lg" x="1174.34" y="650.8" fill="#5a7ab4" style="font-size:24.4px" textLength="11.06" lengthAdjust="spacingAndGlyphs">4</text>
<text class="lg" x="1092" y="673.7" fill="#55506e" textLength="38.0" lengthAdjust="spacingAndGlyphs">Age</text><text class="lg" x="1137.00" y="673.7" fill="#55506e" style="font-size:19.8px" textLength="11.90" lengthAdjust="spacingAndGlyphs">0</text><text class="lg" x="1156.8" y="673.7" fill="#55506e" textLength="89.2" lengthAdjust="spacingAndGlyphs">(infancy)</text>

<line x1="1025.2" y1="583" x2="1025.2" y2="606" stroke="#c0655c" stroke-width="1.2"/>
</svg>
</body></html>
